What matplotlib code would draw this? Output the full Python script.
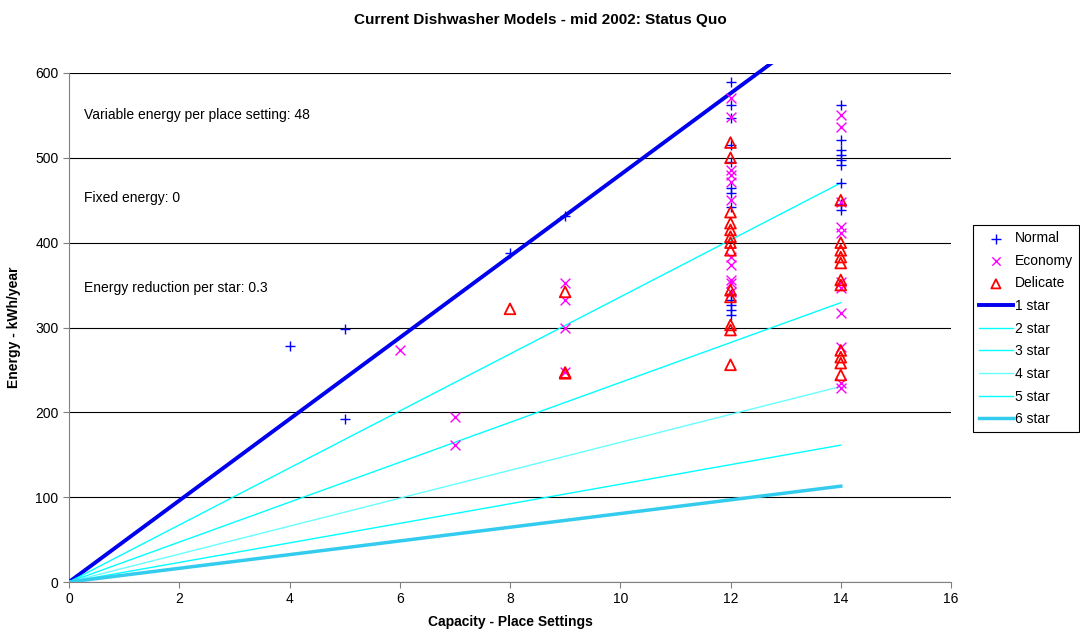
import matplotlib
matplotlib.use("Agg")
import matplotlib.pyplot as plt
from matplotlib.transforms import Bbox, TransformedBbox

plt.rcParams['font.family'] = ['Liberation Sans', 'DejaVu Sans']

# Data
normal_x = [4, 5, 5, 8, 9,
            12, 12, 12, 12, 12, 12, 12, 12, 12, 12, 12, 12, 12,
            14, 14, 14, 14, 14, 14, 14, 14, 14]
normal_y = [278, 298, 192, 388, 431,
            589, 562, 547, 515, 495, 464, 458, 442, 332, 327, 321, 315, 340,
            562, 521, 509, 503, 497, 492, 470, 439, 445]

economy_x = [6, 7, 7, 9, 9, 9, 9,
             12, 12, 12, 12, 12, 12, 12, 12, 12, 12, 12,
             14, 14, 14, 14, 14, 14, 14, 14, 14, 14, 14]
economy_y = [273, 194, 161, 353, 333, 300, 248,
             570, 548, 486, 480, 472, 450, 383, 374, 352, 356, 342,
             550, 536, 448, 418, 411, 354, 347, 317, 277, 229, 235]

delicate_x = [8, 9, 9, 9,
              12, 12, 12, 12, 12, 12, 12, 12, 12, 12, 12, 12, 12,
              14, 14, 14, 14, 14, 14, 14, 14, 14, 14, 14]
delicate_y = [322, 342, 246, 247,
              518, 500, 436, 423, 415, 407, 400, 391, 344, 336, 303, 297, 256,
              450, 400, 391, 383, 376, 356, 350, 273, 265, 258, 244]

variable_energy = 48
fixed_energy = 0
reduction = 0.3
star_labels = ["1 star", "2 star", "3 star", "4 star", "5 star", "6 star"]
star_x = [0, 14]

fig = plt.figure(figsize=(10.8, 6.4), dpi=100)
ax = fig.add_axes([69/1080, 1-582/640, (951-69)/1080, (582-73)/640])

ax.scatter(normal_x, normal_y, marker='+', s=60, color='#0000FF', linewidths=1.0, label='Normal', zorder=4)
ax.scatter(economy_x, economy_y, marker='x', s=50, color='#FF00FF', linewidths=1.0, label='Economy', zorder=4)
ax.scatter(delicate_x, delicate_y, marker='^', s=60, facecolors='none', edgecolors='#FF0000', linewidths=1.3, label='Delicate', zorder=4)

star_colors = ['#0000EE', '#00FFFF', '#00FFFF', '#66FFFF', '#00FFFF', '#33CCEE']
star_widths = [2.8, 1.0, 1.0, 1.0, 1.0, 2.5]
clip_box = TransformedBbox(Bbox([[0, 0], [1, 1.017]]), ax.transAxes)
for i, lab in enumerate(star_labels):
    slope = variable_energy * (1 - reduction) ** i
    ys = [fixed_energy + slope * xv for xv in star_x]
    ln, = ax.plot(star_x, ys, color=star_colors[i], lw=star_widths[i], label=lab, zorder=3)
    ln.set_clip_box(clip_box)

ax.set_xlim(0, 16)
ax.set_ylim(0, 600)
ax.set_xticks(range(0, 17, 2))
ax.set_yticks(range(0, 601, 100))
ax.yaxis.grid(True, color='black', lw=0.8)
ax.set_axisbelow(True)
for s in ['top', 'right']:
    ax.spines[s].set_visible(False)
for s in ['left', 'bottom']:
    ax.spines[s].set_color('#808080')
ax.tick_params(axis='both', labelsize=10, length=4, color='#808080', direction='out')

ax.set_xlabel('Capacity - Place Settings', fontsize=10, fontweight='bold', labelpad=6)
ax.set_ylabel('Energy - kWh/year', fontsize=10, fontweight='bold', labelpad=10)
fig.text(0.5, 1-20/640, 'Current Dishwasher Models - mid 2002: Status Quo',
         ha='center', va='center', fontsize=11, fontweight='bold')

ax.text(0.27, 551, 'Variable energy per place setting: %d' % variable_energy, fontsize=10, va='center')
ax.text(0.27, 453, 'Fixed energy: %d' % fixed_energy, fontsize=10, va='center')
ax.text(0.27, 346, 'Energy reduction per star: %s' % reduction, fontsize=10, va='center')

leg = ax.legend(loc='upper left', bbox_to_anchor=(973/1080, 1-225/640), bbox_transform=fig.transFigure,
                fancybox=False, edgecolor='black', fontsize=10, framealpha=1, markerscale=0.85,
                handlelength=2.4, borderaxespad=0, labelspacing=0.62, handletextpad=0.15,
                borderpad=0.45)
leg.get_frame().set_linewidth(0.8)

fig.savefig('out.png', dpi=100)
